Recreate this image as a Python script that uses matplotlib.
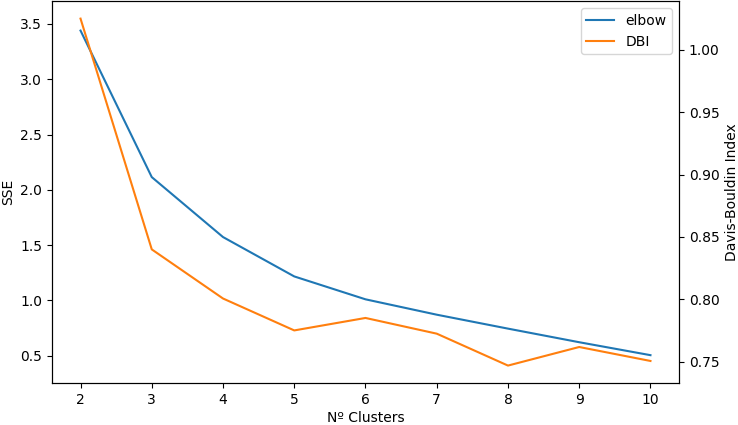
import numpy as np
import matplotlib.pyplot as plt

clusters = [2, 3, 4, 5, 6, 7, 8, 9, 10]
sse = [3.44, 2.115, 1.573, 1.217, 1.01, 0.871, 0.745, 0.622, 0.505]
dbi = [1.0251, 0.840, 0.8006, 0.775, 0.785, 0.7724, 0.7468, 0.7617, 0.7505]

fig, ax1 = plt.subplots(figsize=(7.38, 4.25), dpi=100)
fig.subplots_adjust(left=0.0705, right=0.92, top=0.997, bottom=0.099)

l1, = ax1.plot(clusters, sse, color='tab:blue', label='elbow')
ax1.set_ylim(0.254, 3.705)
ax1.set_xlabel('Nº Clusters', labelpad=3)
ax1.set_ylabel('SSE')

ax2 = ax1.twinx()
l2, = ax2.plot(clusters, dbi, color='tab:orange', label='DBI')
ax2.set_ylabel('Davis-Bouldin Index')

ax2.legend(handles=[l1, l2], loc='upper right')

fig.savefig('out.png', dpi=100)
